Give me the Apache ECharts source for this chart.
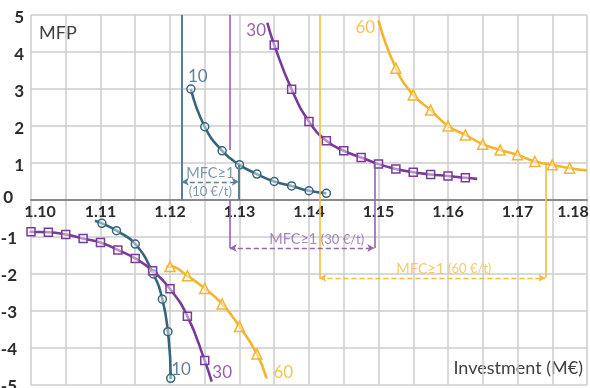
<!DOCTYPE html>
<html>
<head>
<meta charset="utf-8">
<script src="https://cdn.jsdelivr.net/npm/echarts@6/dist/echarts.min.js"></script>
<style>
  html, body { margin: 0; padding: 0; background: #ffffff; }
  #chart { width: 590px; height: 388px; }
</style>
</head>
<body>
<div id="chart"></div>
<script>
// Marginal financial performance (MFP) vs investment, three carbon prices (€/t)

// Upper branch (MFP > 0): marker points
const pos10 = [[1.1230, 3.00], [1.1250, 1.98], [1.1275, 1.33], [1.1300, 0.95], [1.1325, 0.70],
               [1.1350, 0.50], [1.1375, 0.38], [1.1400, 0.25], [1.1425, 0.18]];
const pos30 = [[1.1350, 4.19], [1.1375, 2.99], [1.1400, 2.12], [1.1425, 1.60], [1.1450, 1.33],
               [1.1475, 1.15], [1.1500, 0.97], [1.1525, 0.84], [1.1550, 0.75], [1.1575, 0.69],
               [1.1600, 0.65], [1.1625, 0.60]];
const pos60 = [[1.1525, 3.56], [1.1550, 2.84], [1.1575, 2.43], [1.1600, 2.00], [1.1625, 1.76],
               [1.1650, 1.51], [1.1675, 1.35], [1.1700, 1.22], [1.1725, 1.04], [1.1750, 0.95],
               [1.1775, 0.86]];

// Lower branch (MFP < 0): marker points
const neg10 = [[1.1102, -0.63], [1.1123, -0.83], [1.1150, -1.19], [1.1176, -2.00], [1.1189, -2.68],
               [1.1197, -3.56], [1.1201, -4.82]];
const neg30 = [[1.1000, -0.86], [1.1025, -0.87], [1.1050, -0.93], [1.1075, -1.04], [1.1100, -1.15],
               [1.1125, -1.35], [1.1150, -1.58], [1.1175, -1.91], [1.1200, -2.40], [1.1225, -3.14],
               [1.1250, -4.34]];
const neg60 = [[1.1200, -1.80], [1.1225, -2.05], [1.1250, -2.39], [1.1275, -2.81], [1.1300, -3.42],
               [1.1325, -4.16]];

// Fitted curve ends beyond the markers
const pos30Ends = [[1.1340, 4.79], [1.1642, 0.57]];
const pos60Ends = [[1.1500, 4.85], [1.1800, 0.80]];
const neg10Ends = [[1.1092, -0.56], [1.1201, -4.84]];
const neg30Ends = [[1.0998, -0.85], [1.1260, -4.91]];
const neg60Ends = [[1.1195, -1.80], [1.1339, -4.82]];

// MFC ≥ 1 investment ranges per carbon price: [from, to]
const range10 = [1.1217, 1.1299];
const range30 = [1.1286, 1.1494];
const range60 = [1.1415, 1.1740];

const curveNames = ['10', '30', '60'];
const xTickLabels = ['1.10', '1.11', '1.12', '1.13', '1.14', '1.15', '1.16', '1.17', '1.18'];

const C10 = '#35647d', C30 = '#7a3a9a', C60 = '#f3b52f';
const V10 = '#5a8096', V30 = '#9464b0', V60 = '#f5bb3e';
const FONT = 'Lato, "Open Sans", sans-serif';

const GRID_TOP = 15, GRID_BOTTOM = 3, CHART_H = 388;
// the horizontal axis sits at MFP = 0, i.e. halfway down the plot (range -5..5)
const zeroOffset = -((CHART_H - GRID_TOP - GRID_BOTTOM) / 2);

function withEnds(ends, pts) {
  return ends ? [ends[0]].concat(pts, [ends[1]]) : pts;
}

function curve(data, color) {
  return {
    type: 'line', data: data, showSymbol: false, smooth: 0.5,
    lineStyle: { color: color, width: 2.6 }, z: 3, silent: true, animation: false
  };
}
function markers(data, color, symbol, size) {
  return {
    type: 'scatter', data: data, symbol: symbol, symbolSize: size,
    itemStyle: { color: 'rgba(255,255,255,0.45)', borderColor: color, borderWidth: 1.5, opacity: 1 },
    z: 4, silent: true, animation: false
  };
}
function segments(segs, color, width, dashed, arrows) {
  return {
    type: 'line', data: [], silent: true, animation: false,
    markLine: {
      silent: true, animation: false,
      symbol: arrows ? ['arrow', 'arrow'] : ['none', 'none'],
      symbolSize: [6, 7],
      label: { show: false },
      lineStyle: { color: color, width: width, type: dashed ? [5, 3] : 'solid' },
      emphasis: { disabled: true },
      data: segs.map(s => [{ coord: s[0] }, { coord: s[1] }])
    }
  };
}
function texts(items, color, size, rich) {
  return {
    type: 'scatter', symbolSize: 0, silent: true, animation: false, z: 6,
    data: items.map(t => ({ value: t.at, name: t.text })),
    label: {
      show: true, position: 'inside', formatter: '{b}',
      color: color, fontSize: size, fontFamily: FONT, rich: rich || {}
    }
  };
}

const chart = echarts.init(document.getElementById('chart'), null, { renderer: 'canvas' });

const yRich = {
  p: { fontSize: 17, fontWeight: 'bold', color: '#2b2b2b', fontFamily: FONT, padding: [5, 0, 0, 0] },
  n: { fontSize: 17, fontWeight: 'bold', color: '#2b2b2b', fontFamily: FONT, padding: [3, 7, 0, 0] },
  z: { fontSize: 17, fontWeight: 'bold', color: '#2b2b2b', fontFamily: FONT, padding: [0, 11, 4, 0] }
};
const xRich = {
  f: { fontSize: 16, fontWeight: 'bold', color: '#2b2b2b', fontFamily: FONT, padding: [0, 0, 0, 18] },
  l: { fontSize: 16, fontWeight: 'bold', color: '#2b2b2b', fontFamily: FONT, padding: [0, 28, 0, 0] }
};

const option = {
  animation: false,
  backgroundColor: '#ffffff',
  grid: { left: 31, right: 3, top: GRID_TOP, bottom: GRID_BOTTOM, containLabel: false, outerBoundsMode: 'none' },
  xAxis: {
    type: 'value', min: 1.10, max: 1.18, interval: 0.005,
    position: 'bottom', offset: zeroOffset,
    axisLine: { show: true, onZero: false, lineStyle: { color: '#8a8a8a', width: 2 } },
    axisTick: { show: false },
    splitLine: { show: true, lineStyle: { color: '#cdcdcd', width: 1.5 } },
    axisLabel: {
      show: true, margin: 4, fontSize: 16, fontWeight: 'bold', color: '#2b2b2b', fontFamily: FONT,
      rich: xRich,
      formatter: function (v) {
        const k = Math.round((v - 1.10) * 100 * 1000) / 1000;
        if (Math.abs(k - Math.round(k)) > 1e-6) return '';
        const t = xTickLabels[Math.round(k)];
        if (Math.round(k) === 0) return '{f|' + t + '}';
        if (Math.round(k) === xTickLabels.length - 1) return '{l|' + t + '}';
        return t;
      }
    }
  },
  yAxis: {
    type: 'value', min: -5, max: 5, interval: 1,
    axisLine: { show: false, onZero: false },
    axisTick: { show: false },
    splitLine: { show: true, lineStyle: { color: '#cdcdcd', width: 1.5 } },
    axisLabel: {
      margin: 7, rich: yRich,
      formatter: function (v) {
        if (v > 0) return '{p|' + v + '}';
        if (v < 0) return '{n|' + v + '}';
        return '{z|0}';
      }
    }
  },
  graphic: [
    { type: 'text', left: 39, top: 24, style: { text: 'MFP', fontSize: 18, fontFamily: FONT, fill: '#404040' } },
    { type: 'text', right: 7, top: 359, style: { text: 'Investment (M€)', fontSize: 18, fontFamily: FONT, fill: '#404040' } }
  ],
  series: [
    // range markers (vertical bounds)
    segments([[[range10[0], 5], [range10[0], 0]], [[range10[1], 0.95], [range10[1], 0]]], V10, 2, false, false),
    segments([[[range30[0], 5], [range30[0], 1.35]], [[range30[0], 0], [range30[0], -1.3]],
              [[range30[1], 0.97], [range30[1], -1.3]]], V30, 1.6, false, false),
    segments([[[range60[0], 5], [range60[0], -2.11]], [[range60[1], 0.95], [range60[1], -2.11]]], V60, 1.6, false, false),
    // double-headed dashed arrows
    segments([[[range10[0], 0.49], [range10[1], 0.49]]], V10, 1.3, true, true),
    segments([[[range30[0], -1.3], [range30[1], -1.3]]], V30, 1.3, true, true),
    segments([[[range60[0], -2.11], [range60[1], -2.11]]], V60, 1.3, true, true),

    curve(withEnds(null, pos10), C10),
    curve(withEnds(pos30Ends, pos30), C30),
    curve(withEnds(pos60Ends, pos60), C60),
    curve(withEnds(neg10Ends, neg10), C10),
    curve(withEnds(neg30Ends, neg30), C30),
    curve(withEnds(neg60Ends, neg60), C60),

    markers(pos10, C10, 'circle', 8),
    markers(pos30, C30, 'rect', 8),
    markers(pos60, C60, 'triangle', 10),
    markers(neg10, C10, 'circle', 8),
    markers(neg30, C30, 'rect', 8),
    markers(neg60, C60, 'triangle', 10),

    // curve captions
    texts([{ at: [1.1240, 3.35], text: curveNames[0] }, { at: [1.1216, -4.59], text: curveNames[0] }], C10, 17),
    texts([{ at: [1.1324, 4.59], text: curveNames[1] }, { at: [1.1275, -4.65], text: curveNames[1] }], C30, 17),
    texts([{ at: [1.1481, 4.65], text: curveNames[2] }, { at: [1.1363, -4.65], text: curveNames[2] }], C60, 17),

    // MFC ≥ 1 annotations
    texts([{ at: [(range10[0] + range10[1]) / 2, 0.73], text: 'MFC≥1' }], V10, 14.5),
    texts([{ at: [(range10[0] + range10[1]) / 2, 0.22], text: '(10 €/t)' }], V10, 13),
    texts([{ at: [1.1411, -1.07], text: '{a|MFC≥1} {b|(30 €/t)}' }], V30, 14,
          { a: { fontSize: 14.5, color: V30, fontFamily: FONT }, b: { fontSize: 13, color: V30, fontFamily: FONT } }),
    texts([{ at: [1.1594, -1.87], text: '{a|MFC≥1} {b|(60 €/t)}' }], V60, 14,
          { a: { fontSize: 14.5, color: V60, fontFamily: FONT }, b: { fontSize: 13, color: V60, fontFamily: FONT } })
  ]
};

chart.setOption(option);
</script>
</body>
</html>
